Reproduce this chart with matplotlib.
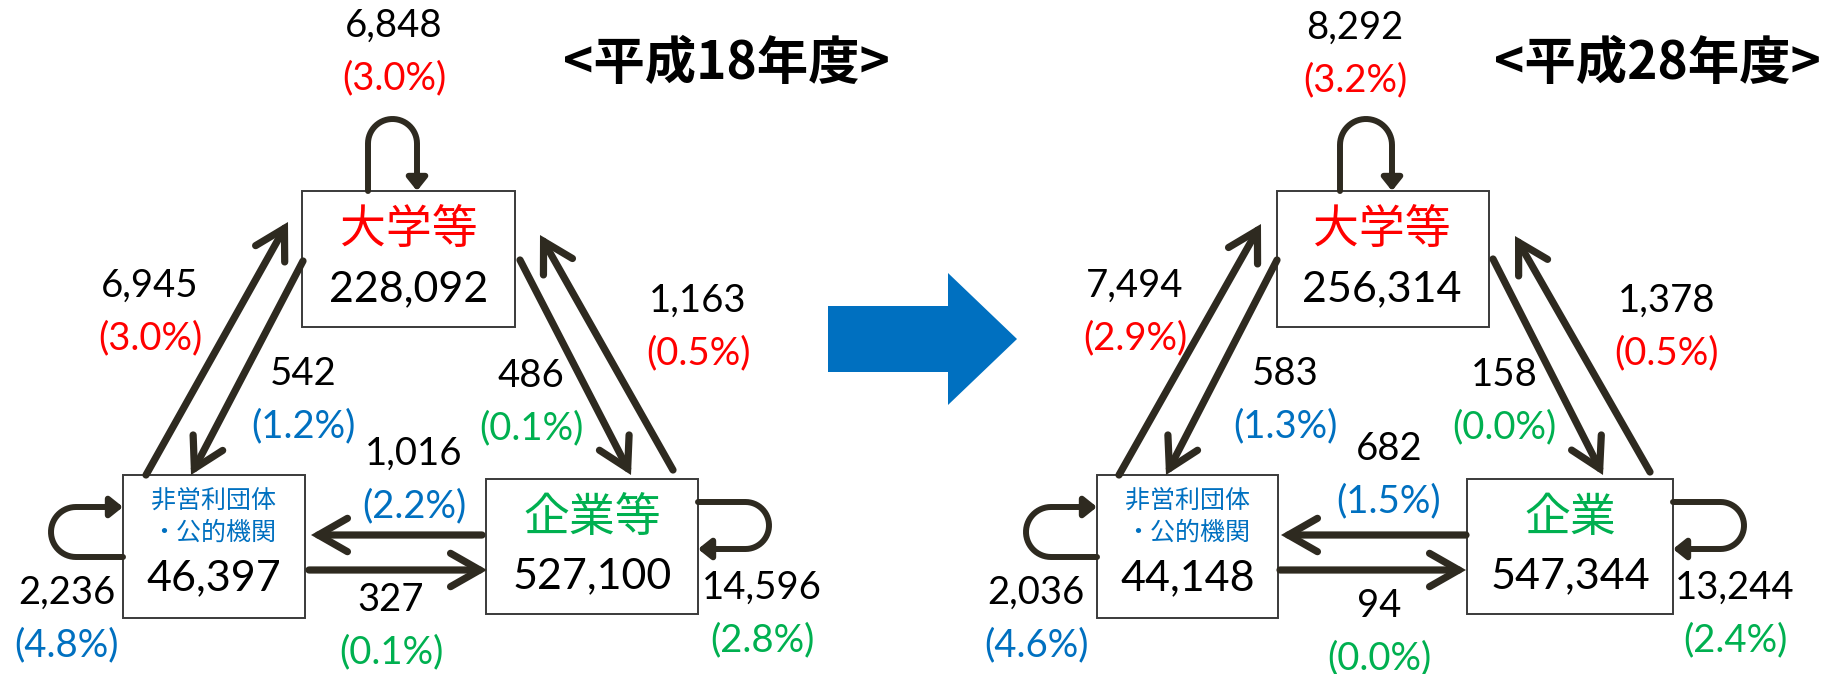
import numpy as np
import matplotlib
matplotlib.use('Agg')
import matplotlib.pyplot as plt
from matplotlib.patches import FancyArrowPatch, Rectangle, Polygon
from matplotlib.path import Path

plt.rcParams['font.family'] = ['Lato', 'Noto Sans CJK JP', 'DejaVu Sans']

# --- data (left: H18, right: H28) ---
years = ['<平成18年度>', '<平成28年度>']
univ_name = '大学等'
np_name = ['非営利団体', '・公的機関']
company_names = ['企業等', '企業']
univ_total = [228092, 256314]
np_total = [46397, 44148]
co_total = [527100, 547344]

univ_self = [6848, 8292]
univ_self_pct = [3.0, 3.2]
np_to_univ = [6945, 7494]
np_to_univ_pct = [3.0, 2.9]
univ_to_np = [542, 583]
univ_to_np_pct = [1.2, 1.3]
univ_to_co = [486, 158]
univ_to_co_pct = [0.1, 0.0]
co_to_univ = [1163, 1378]
co_to_univ_pct = [0.5, 0.5]
co_to_np = [1016, 682]
co_to_np_pct = [2.2, 1.5]
np_to_co = [327, 94]
np_to_co_pct = [0.1, 0.0]
np_self = [2236, 2036]
np_self_pct = [4.8, 4.6]
co_self = [14596, 13244]
co_self_pct = [2.8, 2.4]

RED = '#FF0000'
BLUE = '#0070C0'
GREEN = '#00B050'
DARK = '#2E2A20'

W, H = 1827, 674
fig = plt.figure(figsize=(W / 100, H / 100), dpi=100)
ax = fig.add_axes([0, 0, 1, 1])
ax.set_xlim(0, W)
ax.set_ylim(H, 0)
ax.axis('off')

# layout of each panel (pixel positions)
layout = [
    dict(univ=(302, 191, 515, 327), np=(123, 475, 305, 618), co=(486, 479, 698, 614),
         univ_txt=(409, 230, 289), np_txt=(214, 501, 533, 578), co_txt=(592, 518, 576),
         title=(726, 63),
         a_np_univ=((146, 475), (288, 222)), a_univ_np=((303, 261), (191, 475)),
         a_univ_co=((520, 260), (631, 475)), a_co_univ=((673, 470), (540, 235)),
         a_co_np=((482, 535), (311, 535)), a_np_co=((309, 570), (487, 570)),
         loop_univ=(368, 417, 119, 191), loop_np=(123, 51, 507, 557), loop_co=(698, 769, 502, 549),
         l_univ_self=(394, 26), l_np_univ=(150, 286), l_univ_np=(303, 374),
         l_univ_co=(531, 376), l_co_univ=(698, 301), l_co_np=(414, 454),
         l_np_co=(391, 600), l_np_self=(67, 593), l_co_self=(762, 588)),
    dict(univ=(1277, 191, 1489, 327), np=(1097, 475, 1278, 618), co=(1467, 479, 1673, 614),
         univ_txt=(1382, 230, 289), np_txt=(1188, 501, 533, 578), co_txt=(1570, 518, 576),
         title=(1657, 63),
         a_np_univ=((1119, 475), (1261, 224)), a_univ_np=((1277, 260), (1166, 475)),
         a_univ_co=((1493, 259), (1603, 475)), a_co_univ=((1650, 472), (1515, 236)),
         a_co_np=((1466, 535), (1281, 535)), a_np_co=((1280, 570), (1466, 570)),
         loop_univ=(1340, 1392, 119, 191), loop_np=(1097, 1026, 507, 557), loop_co=(1673, 1744, 502, 549),
         l_univ_self=(1355, 28), l_np_univ=(1135, 286), l_univ_np=(1285, 374),
         l_univ_co=(1504, 375), l_co_univ=(1667, 301), l_co_np=(1389, 449),
         l_np_co=(1379, 606), l_np_self=(1036, 593), l_co_self=(1735, 588)),
]


def box(r):
    x0, y0, x1, y1 = r
    ax.add_patch(Rectangle((x0, y0), x1 - x0, y1 - y0, fc='white', ec='#3A3A3A', lw=1.4, zorder=2))


def big_arrow(p0, p1):
    ax.add_patch(FancyArrowPatch(p0, p1, arrowstyle='->,head_length=21,head_width=12',
                                 lw=5.2, color=DARK, shrinkA=0, shrinkB=0,
                                 capstyle='round', joinstyle='miter', zorder=3))


def loop(pts):
    ax.add_patch(FancyArrowPatch(path=Path(np.array(pts)),
                                 arrowstyle='-|>,head_length=7.5,head_width=6',
                                 lw=4.3, color=DARK, zorder=3))


def label(pos, val, pct, color):
    x, y = pos
    ax.text(x, y, f'{val:,}', ha='center', va='center', fontsize=27.5, color='black')
    ax.text(x, y + 52, f'({pct:.1f}%)', ha='center', va='center', fontsize=27.5, color=color)


for i, L in enumerate(layout):
    for k in ('univ', 'np', 'co'):
        box(L[k])
    x, y1, y2 = L['univ_txt']
    ax.text(x, y1, univ_name, ha='center', va='center', fontsize=33, color=RED,
            family='Noto Sans CJK JP', zorder=4)
    ax.text(x, y2, f'{univ_total[i]:,}', ha='center', va='center', fontsize=31, zorder=4)
    x, y1, y2, y3 = L['np_txt']
    ax.text(x, y1, np_name[0], ha='center', va='center', fontsize=18, color=BLUE,
            family='Noto Sans CJK JP', zorder=4)
    ax.text(x, y2, np_name[1], ha='center', va='center', fontsize=18, color=BLUE,
            family='Noto Sans CJK JP', zorder=4)
    ax.text(x, y3, f'{np_total[i]:,}', ha='center', va='center', fontsize=31, zorder=4)
    x, y1, y2 = L['co_txt']
    ax.text(x, y1, company_names[i], ha='center', va='center', fontsize=33, color=GREEN,
            family='Noto Sans CJK JP', zorder=4)
    ax.text(x, y2, f'{co_total[i]:,}', ha='center', va='center', fontsize=31, zorder=4)

    ax.text(*L['title'], years[i], ha='center', va='center', fontsize=37, fontweight='bold',
            family='Noto Sans CJK JP')

    for k in ('a_np_univ', 'a_univ_np', 'a_univ_co', 'a_co_univ', 'a_co_np', 'a_np_co'):
        big_arrow(*L[k])

    # self loops
    xl, xr, ytop, ybox = L['loop_univ']
    r = (xr - xl) / 2
    cx, cy = xl + r, ytop + r
    t = np.linspace(np.pi, 0, 30)
    loop([(xl, ybox)] + [(cx + r * np.cos(a), cy - r * np.sin(a)) for a in t] + [(xr, ybox)])

    xb, xe, yt, yb = L['loop_np']
    r = (yb - yt) / 2
    cx, cy = xe + r, yt + r
    t = np.linspace(np.pi / 2, 3 * np.pi / 2, 30)
    loop([(xb, yb)] + [(cx + r * np.cos(a), cy + r * np.sin(a)) for a in t] + [(xb, yt)])

    xb, xe, yt, yb = L['loop_co']
    r = (yb - yt) / 2
    cx, cy = xe - r, yt + r
    t = np.linspace(-np.pi / 2, np.pi / 2, 30)
    loop([(xb, yt)] + [(cx + r * np.cos(a), cy + r * np.sin(a)) for a in t] + [(xb, yb)])

    label(L['l_univ_self'], univ_self[i], univ_self_pct[i], RED)
    label(L['l_np_univ'], np_to_univ[i], np_to_univ_pct[i], RED)
    label(L['l_univ_np'], univ_to_np[i], univ_to_np_pct[i], BLUE)
    label(L['l_univ_co'], univ_to_co[i], univ_to_co_pct[i], GREEN)
    label(L['l_co_univ'], co_to_univ[i], co_to_univ_pct[i], RED)
    label(L['l_co_np'], co_to_np[i], co_to_np_pct[i], BLUE)
    label(L['l_np_co'], np_to_co[i], np_to_co_pct[i], GREEN)
    label(L['l_np_self'], np_self[i], np_self_pct[i], BLUE)
    label(L['l_co_self'], co_self[i], co_self_pct[i], GREEN)

# blue arrow between panels
ax.add_patch(Polygon([(828, 306), (948, 306), (948, 273), (1017, 339), (948, 405),
                      (948, 372), (828, 372)], closed=True, fc='#0070C0', ec='none'))

fig.savefig('out.png', dpi=100)
